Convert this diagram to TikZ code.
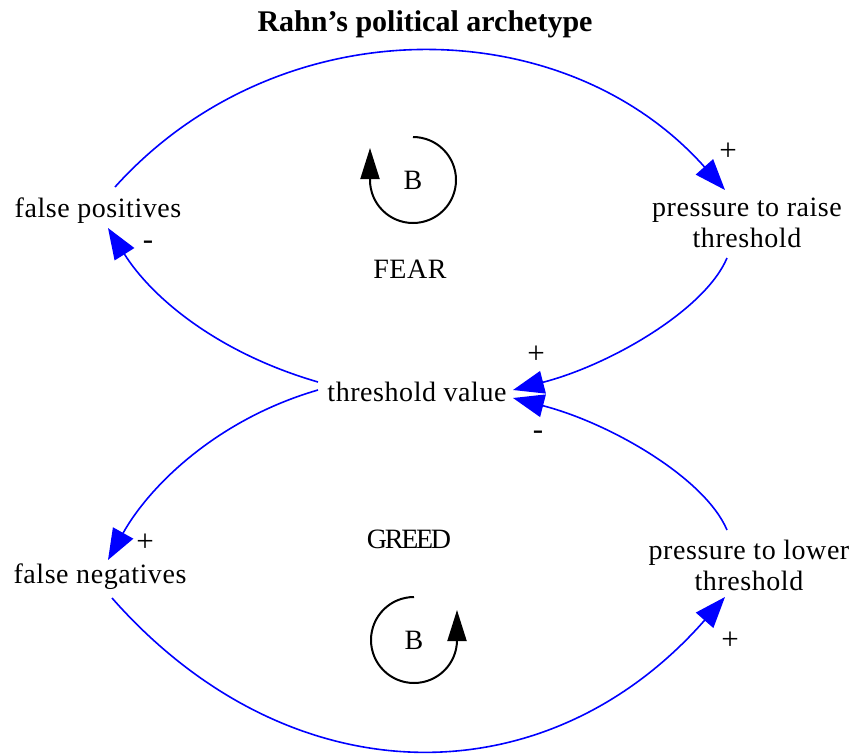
\documentclass[tikz,border=0pt]{standalone}
\usepackage{fontspec}
\setmainfont{Liberation Serif}
\usetikzlibrary{arrows.meta,calc}
\begin{document}
\begin{tikzpicture}[x=1pt,y=1pt,
  lbl/.style={inner sep=0pt, font=\fontsize{28}{31}\selectfont\addfontfeature{LetterSpace=2}},
  sgn/.style={inner sep=0pt, font=\fontsize{31}{31}\selectfont},
  ttl/.style={inner sep=0pt, font=\fontsize{30}{32}\selectfont\bfseries},
  link/.style={draw=blue, line width=1.6pt, -{Triangle[length=31pt,width=23pt]}},
  loopar/.style={draw=black, line width=2pt, -{Triangle[length=31pt,width=19pt]}}]
\useasboundingbox[fill=white] (0,0) rectangle (852,-753);
% title
\node[ttl, anchor=base] (title) at (425,-31) {Rahn’s political archetype};
% variables
\node[lbl, anchor=base] (fp) at (98,-217) {false positives};
\node[lbl, align=center] (pr) at (747,-223) {pressure to raise\\threshold};
\node[lbl, anchor=base] (tv) at (417,-401) {threshold value};
\node[lbl, anchor=base] (fn) at (100,-583) {false negatives};
\node[lbl, align=center] (pl) at (749,-565) {pressure to lower\\threshold};
% loop names
\node[lbl, anchor=base] (fear) at (410,-278) {FEAR};
\node[inner sep=0pt, font=\fontsize{28}{30}\selectfont\addfontfeature{LetterSpace=-8}, anchor=base] (greed) at (409,-548) {GREED};
% loop markers
\node[lbl] (b1) at (413,-180) {B};
\draw[loopar] ($(b1)+(0,43)$) arc[start angle=90, end angle=-180, radius=43] -- ++(0,32);
\node[lbl] (b2) at (414,-640) {B};
\draw[loopar] ($(b2)+(0,43)$) arc[start angle=90, end angle=360, radius=43] -- ++(0,30);
% links
\draw[link] ($(fp.base)+(17,30)$) .. controls (278,-6) and (563,-8) .. ($(pr)+(-22,33)$);
\draw[link] ($(pr)+(-20,-35)$) .. controls (705,-310) and (610,-365) .. ($(tv.base)+(96,11)$);
\draw[link] ($(tv.base)+(-99,19)$) .. controls (218,-353) and (152,-298) .. ($(fp.base)+(10,-11)$);
\draw[link] ($(tv.base)+(-99,11)$) .. controls (218,-419) and (150,-485) .. ($(fn.base)+(8,23)$);
\draw[link] ($(fn.base)+(12,-15)$) .. controls (290,-800) and (547,-800) .. ($(pl)+(-24,-32)$);
\draw[link] ($(pl)+(-22,35)$) .. controls (705,-478) and (610,-423) .. ($(tv.base)+(96,3)$);
% polarities
\node[sgn] (s1) at (728,-152) {+};
\node[sgn] (s2) at (148,-245) {-};
\node[sgn] (s3) at (536,-355) {+};
\node[sgn] (s4) at (538,-435) {-};
\node[sgn] (s5) at (145,-543) {+};
\node[sgn] (s6) at (730,-641) {+};
\end{tikzpicture}
\end{document}
